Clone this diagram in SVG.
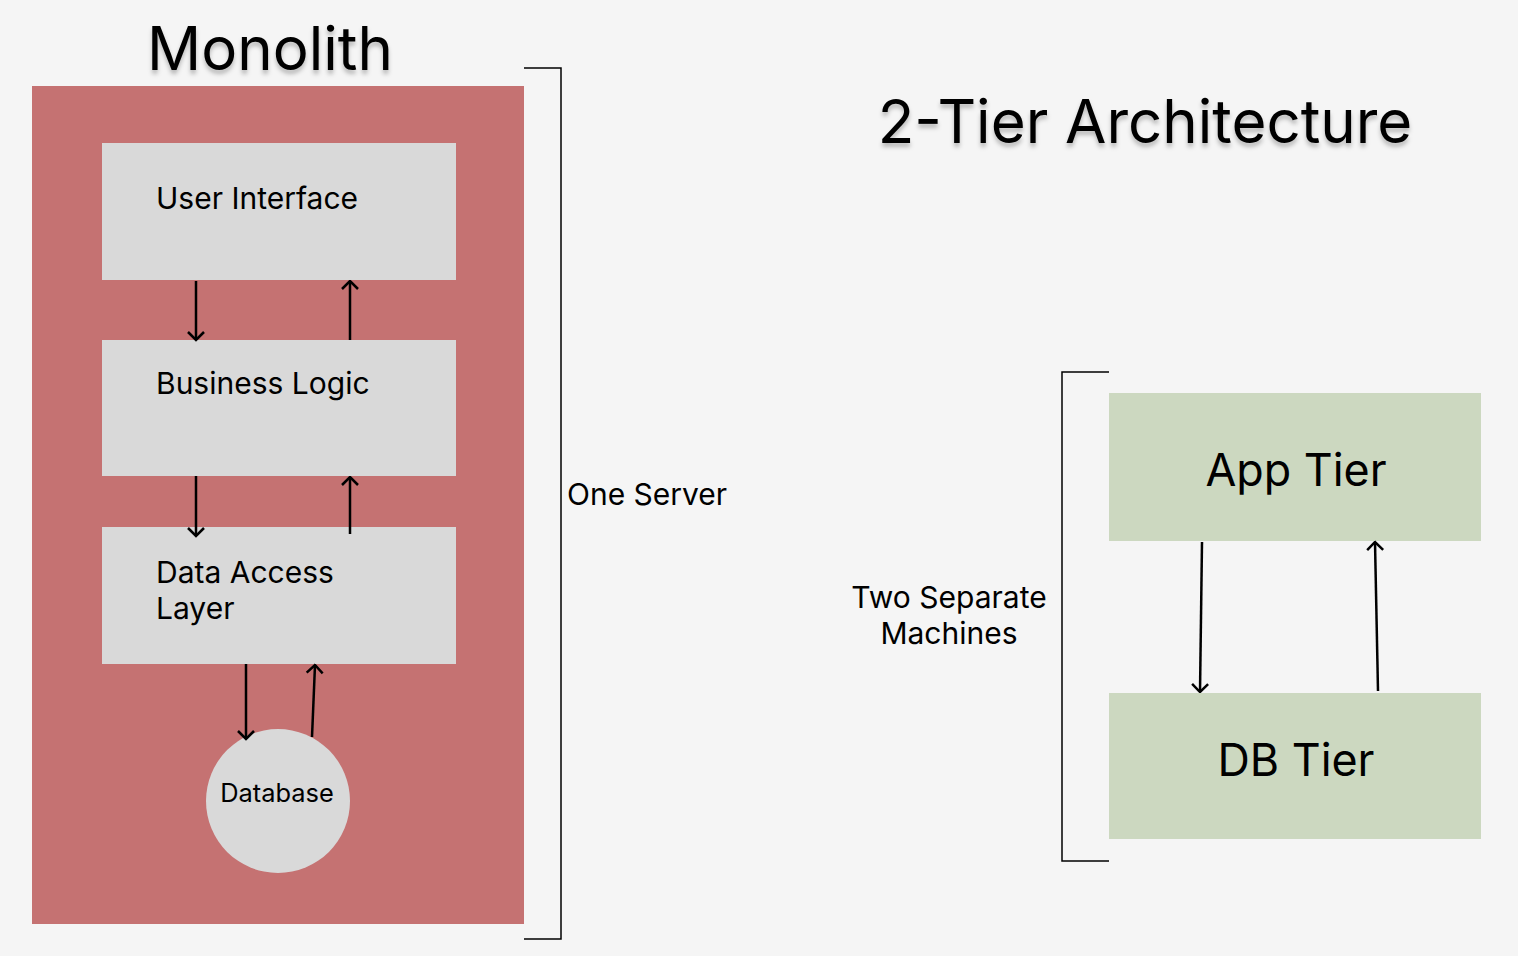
<svg xmlns="http://www.w3.org/2000/svg" width="1518" height="956" viewBox="0 0 1518 956">
<style>
text{font-family:Inter,"Noto Sans","Liberation Sans",sans-serif;fill:#000}
.title{font-size:60px}
.lbl{font-size:30px}
.box{fill:#d9d9d9}
.tier{fill:#ccd8c0}
.conn line{stroke:#000;stroke-width:2.5;fill:none}
.brk{stroke:#000;stroke-width:1.5;fill:none}
</style>
<defs>
<filter id="sh" x="-10%" y="-20%" width="120%" height="150%">
<feDropShadow dx="0" dy="4" stdDeviation="2" flood-color="#000" flood-opacity="0.25"/>
</filter>
<marker id="ah" viewBox="0 0 12 20" refX="10.5" refY="10" markerWidth="12" markerHeight="20" markerUnits="userSpaceOnUse" orient="auto">
<path d="M2.5,2 L10.5,10 L2.5,18" fill="none" stroke="#000" stroke-width="2.5"/>
</marker>
</defs>
<rect width="1518" height="956" fill="#f5f5f5"/>
<text class="title" x="270" y="70" text-anchor="middle" filter="url(#sh)">Monolith</text>
<text class="title" x="1145" y="143" text-anchor="middle" filter="url(#sh)">2-Tier Architecture</text>
<g id="monolith"><rect x="32" y="86" width="492" height="838" fill="#c57272"/></g>
<g id="ui"><rect class="box" x="102" y="143" width="354" height="137"/><text class="lbl" x="156" y="209">User Interface</text></g>
<g id="bl"><rect class="box" x="102" y="340" width="354" height="136"/><text class="lbl" x="156" y="394">Business Logic</text></g>
<g id="dal"><rect class="box" x="102" y="527" width="354" height="137"/><text class="lbl" x="156" y="583">Data Access</text><text class="lbl" x="156" y="619">Layer</text></g>
<g id="db"><circle cx="278" cy="801" r="72" fill="#d9d9d9"/><text x="277" y="802" font-size="25.4" text-anchor="middle">Database</text></g>
<g id="app"><rect class="tier" x="1109" y="393" width="372" height="148"/><text x="1296" y="486" font-size="44.8" text-anchor="middle">App Tier</text></g>
<g id="dbt"><rect class="tier" x="1109" y="693" width="372" height="146"/><text x="1296" y="776" font-size="44.8" text-anchor="middle">DB Tier</text></g>
<g id="one-server"><path class="brk" d="M524,68 H561 V939 H524"/><text class="lbl" x="567" y="505">One Server</text></g>
<g id="two-machines"><path class="brk" d="M1109,372 H1062 V861 H1109"/><text class="lbl" x="949" y="608" text-anchor="middle">Two Separate</text><text class="lbl" x="949" y="644" text-anchor="middle">Machines</text></g>
<g id="connectors" class="conn">
<line x1="196" y1="281" x2="196" y2="340" marker-end="url(#ah)"/>
<line x1="350" y1="340" x2="350" y2="281" marker-end="url(#ah)"/>
<line x1="196" y1="476" x2="196" y2="536" marker-end="url(#ah)"/>
<line x1="350" y1="534" x2="350" y2="477" marker-end="url(#ah)"/>
<line x1="246" y1="664" x2="246" y2="739" marker-end="url(#ah)"/>
<line x1="312" y1="737" x2="315" y2="665" marker-end="url(#ah)"/>
<line x1="1202" y1="542" x2="1200" y2="692" marker-end="url(#ah)"/>
<line x1="1378" y1="691" x2="1375" y2="542" marker-end="url(#ah)"/>
</g>
</svg>
